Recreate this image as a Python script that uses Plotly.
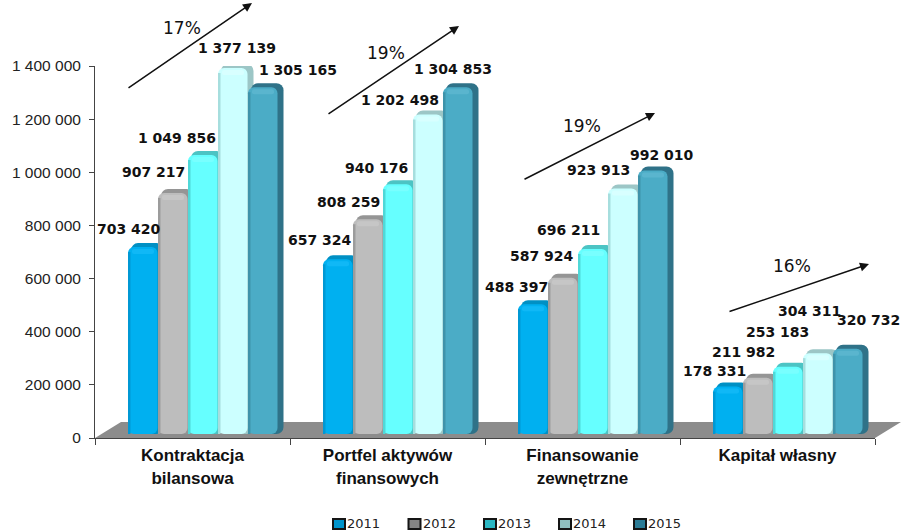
import plotly.graph_objects as go

# Financing volumes per area and year
categories = ["Kontraktacja<br>bilansowa", "Portfel aktywów<br>finansowych",
              "Finansowanie<br>zewnętrzne", "Kapitał własny"]
years = ["2011", "2012", "2013", "2014", "2015"]
v2011 = [703420, 657324, 488397, 178331]
v2012 = [907217, 808259, 587924, 211982]
v2013 = [1049856, 940176, 696211, 253183]
v2014 = [1377139, 1202498, 923913, 304311]
v2015 = [1305165, 1304853, 992010, 320732]
growth = ["17%", "19%", "19%", "16%"]
series = [v2011, v2012, v2013, v2014, v2015]

# Face colours: front, left edge, depth (top and side), highlight, legend swatch
front = ["#00b0f0", "#bdbdbd", "#66ffff", "#ccffff", "#4bacc6"]
edge = ["#0098d4", "#9c9c9c", "#4fd8d8", "#a6dede", "#3f93aa"]
depth = ["#0090c4", "#959595", "#4cc4c4", "#9cc6c6", "#2f7288"]
shine = ["#10b8f6", "#c6c6c6", "#78ffff", "#d8ffff", "#5ab5ce"]
swatch = ["#0094cc", "#858585", "#2cb8c4", "#8fbfbf", "#2c7c96"]

W, H = 906, 530
L, R, T, B = 95, 875, 66, 438
YMAX = 1400000
UNIT_Y = YMAX / (B - T)      # axis value per pixel
UNIT_X = 1 / ((R - L) / 4)   # category fraction per pixel


def px(x, y):
    return (x - L) / (R - L), (B - y) / (B - T)


fig = go.Figure()
for s, vals in enumerate(series):
    left = -64.5 + 30 * s
    lift = 4 * UNIT_Y

    def layer(offset, width, base, heights, color, radius, name=None):
        fig.add_bar(x=categories, y=heights, base=base, offset=offset * UNIT_X,
                    width=width * UNIT_X, showlegend=False, name=years[s],
                    marker=dict(color=color, line_width=0, cornerradius=radius),
                    hoverinfo="skip" if name is None else None)

    # depth behind, then the front face, its left edge and a highlight near the top
    layer(left + 3, 32.5, lift, [v + lift for v in vals], depth[s], 7)
    layer(left, 29.5, lift, vals, front[s], 6, name=years[s])
    layer(left, 2.5, lift, [v - 5 * UNIT_Y for v in vals], edge[s], 0)
    layer(left + 4, 22, [v - 3 * UNIT_Y for v in vals], [5 * UNIT_Y] * 4, shine[s], 2)

# grey floor under the columns
shapes = [dict(type="path", xref="paper", yref="paper", layer="below", line_width=0,
               fillcolor="#8c8c8c",
               path="M {} {} L {} {} L {} {} L {} {} Z".format(
                   *px(95, 438), *px(121, 422), *px(901, 422), *px(875, 438)))]

annotations = []

# value labels, centred at hand-placed pixel positions around the columns
label_x = [[129, 153.5, 177, 237, 298], [320, 348.5, 376, 400, 453],
           [516.5, 542, 568, 598, 662], [714.5, 743.5, 777, 809.5, 868]]
label_y = [[229, 172, 138, 48, 70], [240, 202, 168, 100, 69],
           [287, 256, 230, 170, 155], [371, 352, 332, 311, 320]]
for c in range(4):
    for s in range(5):
        xp, yp = px(label_x[c][s], label_y[c][s])
        annotations.append(dict(
            xref="paper", yref="paper", x=xp, y=yp, showarrow=False,
            xanchor="center", yanchor="middle",
            text=f"{series[s][c]:,}".replace(",", " "),
            font=dict(family="DejaVu Sans", size=14, color="#111111", weight="bold")))

# growth arrows with their percentages
arrows = [(127, 89, 252, 3), (327, 115, 459, 26), (523, 180, 655, 113), (728, 312, 869, 264)]
pct_pos = [(182, 28), (386, 53), (582, 126), (792, 266)]
for (x0, y0, x1, y1), (tx, ty), g in zip(arrows, pct_pos, growth):
    xp, yp = px(x1, y1)
    annotations.append(dict(xref="paper", yref="paper", x=xp, y=yp, text="",
                            showarrow=True, ax=x0 - x1, ay=y0 - y1,
                            arrowhead=2, arrowsize=1.2, arrowwidth=1.5, arrowcolor="#111111"))
    xp, yp = px(tx, ty)
    annotations.append(dict(xref="paper", yref="paper", x=xp, y=yp, text=g, showarrow=False,
                            xanchor="center", yanchor="middle",
                            font=dict(family="DejaVu Sans", size=17, color="#111111")))

# legend row along the bottom edge
legend_x = [333, 408.5, 484, 559, 634]
for yr, x0, col in zip(years, legend_x, swatch):
    a = px(x0, 529)
    b = px(x0 + 12, 519)
    shapes.append(dict(type="rect", xref="paper", yref="paper", x0=a[0], y0=a[1], x1=b[0], y1=b[1],
                       fillcolor=col, line=dict(color="#151515", width=2)))
    xp, yp = px(x0 + 12, 523.5)
    annotations.append(dict(xref="paper", yref="paper", x=xp, y=yp, text=yr, showarrow=False,
                            xanchor="left", yanchor="middle",
                            font=dict(family="DejaVu Sans", size=13, color="#222222")))

fig.update_layout(
    width=W, height=H, margin=dict(l=L, r=W - R, t=T, b=H - B, autoexpand=False),
    paper_bgcolor="white", plot_bgcolor="white", barmode="overlay", showlegend=False,
    separators=". ", shapes=shapes, annotations=annotations,
    xaxis=dict(type="category", categoryorder="array", categoryarray=categories,
               range=[-0.5, 3.5], tickson="boundaries", ticks="outside", ticklen=6,
               tickcolor="#444444", linecolor="#444444", showline=True, showgrid=False,
               ticklabelstandoff=2,
               tickfont=dict(family="Liberation Sans", size=17, color="#111111", weight="bold")),
    yaxis=dict(range=[0, YMAX], tick0=0, dtick=200000, tickformat=",d", ticks="outside",
               ticklen=5, tickcolor="#444444", linecolor="#444444", showline=True,
               showgrid=False, zeroline=False, ticklabelstandoff=5,
               tickfont=dict(family="Liberation Sans", size=15.5, color="#222222")),
)

fig.write_html("out.html")
